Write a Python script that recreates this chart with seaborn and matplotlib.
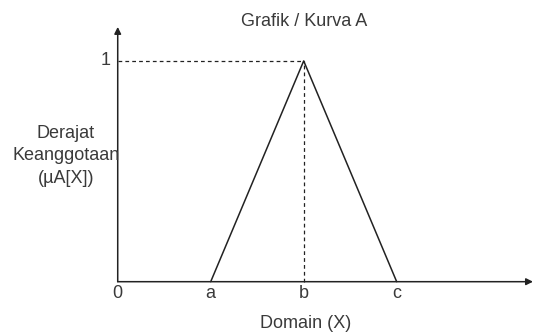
import numpy as np
import pandas as pd
import seaborn as sns
import matplotlib.pyplot as plt

sns.set_style('white')
plt.rcParams['font.family'] = ['Liberation Sans', 'DejaVu Sans']

# triangle membership function
domain_labels = ['0', 'a', 'b', 'c']
domain_pos = [0, 1, 2, 3]
curve_x = [1, 2, 3]
curve_y = [0, 1, 0]
peak_x = 2
peak_y = 1

df = pd.DataFrame({'x': curve_x, 'mu': curve_y})

fig = plt.figure(figsize=(5.33, 3.36), dpi=100)
ax = fig.add_axes([0, 0, 1, 1])
ax.set_xlim(-1.266, 4.466)
ax.set_ylim(-0.246, 1.276)
ax.axis('off')

line_col = '#222222'
sns.lineplot(data=df, x='x', y='mu', color=line_col, lw=1.1, ax=ax)

# dashed guides to the peak
ax.plot([0, peak_x], [peak_y, peak_y], ls=(0, (3, 2.5)), color=line_col, lw=0.9)
ax.plot([peak_x, peak_x], [0, peak_y], ls=(0, (3, 2.5)), color=line_col, lw=0.9)

# axes with arrow heads
arrow = dict(arrowstyle='-|>', color=line_col, lw=1.1, mutation_scale=10,
             shrinkA=0, shrinkB=0)
ax.annotate('', xy=(4.466, 0), xytext=(0, 0), arrowprops=arrow)
ax.annotate('', xy=(0, 1.154), xytext=(0, 0), arrowprops=arrow)

fs = 13
txt_col = '#3a3a3a'
for p, lab in zip(domain_pos, domain_labels):
    ax.text(p, -0.055, lab, ha='center', va='center', fontsize=fs, color=txt_col)
ax.text(-0.13, peak_y, '1', ha='center', va='center', fontsize=fs, color=txt_col)

ax.text(2.02, -0.19, 'Domain (X)', ha='center', va='center', fontsize=fs, color=txt_col)
ax.text(2.0, 1.178, 'Grafik / Kurva A', ha='center', va='center', fontsize=fs, color=txt_col)
ax.text(-0.56, 0.57, 'Derajat\nKeanggotaan\n(µA[X])', ha='center', va='center',
        fontsize=fs, color=txt_col, linespacing=1.4)

fig.savefig('out.png', dpi=100)
